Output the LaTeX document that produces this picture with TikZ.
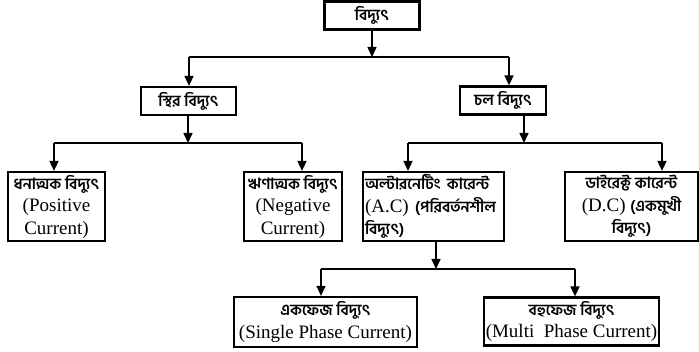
\documentclass[tikz,border=0pt]{standalone}
\usepackage{fontspec}
\setmainfont{Liberation Serif}
\newfontfamily\bnfont[Script=Bengali]{Hind Siliguri}
\usetikzlibrary{arrows.meta,positioning}
\newcommand{\bn}[1]{{\bnfont\bfseries\fontsize{15.5}{22}\selectfont #1}}
\tikzset{
  box/.style={draw=black, line width=2.2pt, fill=white, align=center, inner sep=1.5pt, font=\fontsize{19}{22.5}\selectfont},
  catbox/.style={box, minimum height=28pt},
  leafbox/.style={box, minimum height=69pt},
  phasebox/.style={box, minimum height=48pt},
  wire/.style={line width=1.6pt, draw=black},
  arrow/.style={wire, -{Triangle[length=10pt,width=9pt]}}
}
\begin{document}
\begin{tikzpicture}[x=1pt, y=-1pt]
\useasboundingbox (0,0) rectangle (699,352);
\node[catbox, minimum width=95pt] (root) at (372,15.5) {\bn{বিদ্যুৎ}};
\node[catbox, minimum width=95pt] (stiro) at (188.5,101) {\bn{স্থির বিদ্যুৎ}};
\node[catbox, minimum width=86pt] (chol) at (503,100.5) {\bn{চল বিদ্যুৎ}};
\node[leafbox, minimum width=97pt] (pos) at (56.5,206.5) {\bn{ধনাত্মক বিদ্যুৎ}\\(Positive\\Current)};
\node[leafbox, minimum width=98pt] (neg) at (293,206.5) {\bn{ঋণাত্মক বিদ্যুৎ}\\(Negative\\Current)};
\node[leafbox, minimum width=141pt, align=left, text width=137pt] (ac) at (433.5,206.5) {\bn{অল্টারনেটিং কারেন্ট}\\(A.C) \bn{(পরিবর্তনশীল}\\\bn{বিদ্যুৎ)}};
\node[leafbox, minimum width=133pt] (dc) at (631.5,206.5) {\bn{ডাইরেক্ট কারেন্ট}\\(D.C) \bn{(একমুখী}\\\bn{বিদ্যুৎ)}};
\node[phasebox, minimum width=183pt, minimum height=50pt] (single) at (325.5,322) {\bn{একফেজ বিদ্যুৎ}\\(Single Phase Current)};
\node[phasebox, minimum width=175pt] (multi) at (571.5,321.5) {\bn{বহুফেজ বিদ্যুৎ}\\(Multi\ \ Phase Current)};
\coordinate (bus0) at (372,57);
\coordinate (bus0l) at (189,57);
\coordinate (bus0r) at (509,57);
\coordinate (bus1) at (188,143);
\coordinate (bus1l) at (54,143);
\coordinate (bus1r) at (302,143);
\coordinate (bus2) at (524,143);
\coordinate (bus2l) at (408,143);
\coordinate (bus2r) at (662,143);
\coordinate (bus3) at (436,269);
\coordinate (bus3l) at (321,269);
\coordinate (bus3r) at (575,269);
\draw[arrow] (root.south -| bus0) -- (bus0);
\draw[wire] (bus0l) -- (bus0r);
\draw[arrow] (bus0l) -- (bus0l |- stiro.north);
\draw[arrow] (bus0r) -- (bus0r |- chol.north);
\draw[arrow] (stiro.south -| bus1) -- (bus1);
\draw[wire] (bus1l) -- (bus1r);
\draw[arrow] (bus1l) -- (bus1l |- pos.north);
\draw[arrow] (bus1r) -- (bus1r |- neg.north);
\draw[arrow] (chol.south -| bus2) -- (bus2);
\draw[wire] (bus2l) -- (bus2r);
\draw[arrow] (bus2l) -- (bus2l |- ac.north);
\draw[arrow] (bus2r) -- (bus2r |- dc.north);
\draw[arrow] (ac.south -| bus3) -- (bus3);
\draw[wire] (bus3l) -- (bus3r);
\draw[arrow] (bus3l) -- (bus3l |- single.north);
\draw[arrow] (bus3r) -- (bus3r |- multi.north);
\end{tikzpicture}
\end{document}
